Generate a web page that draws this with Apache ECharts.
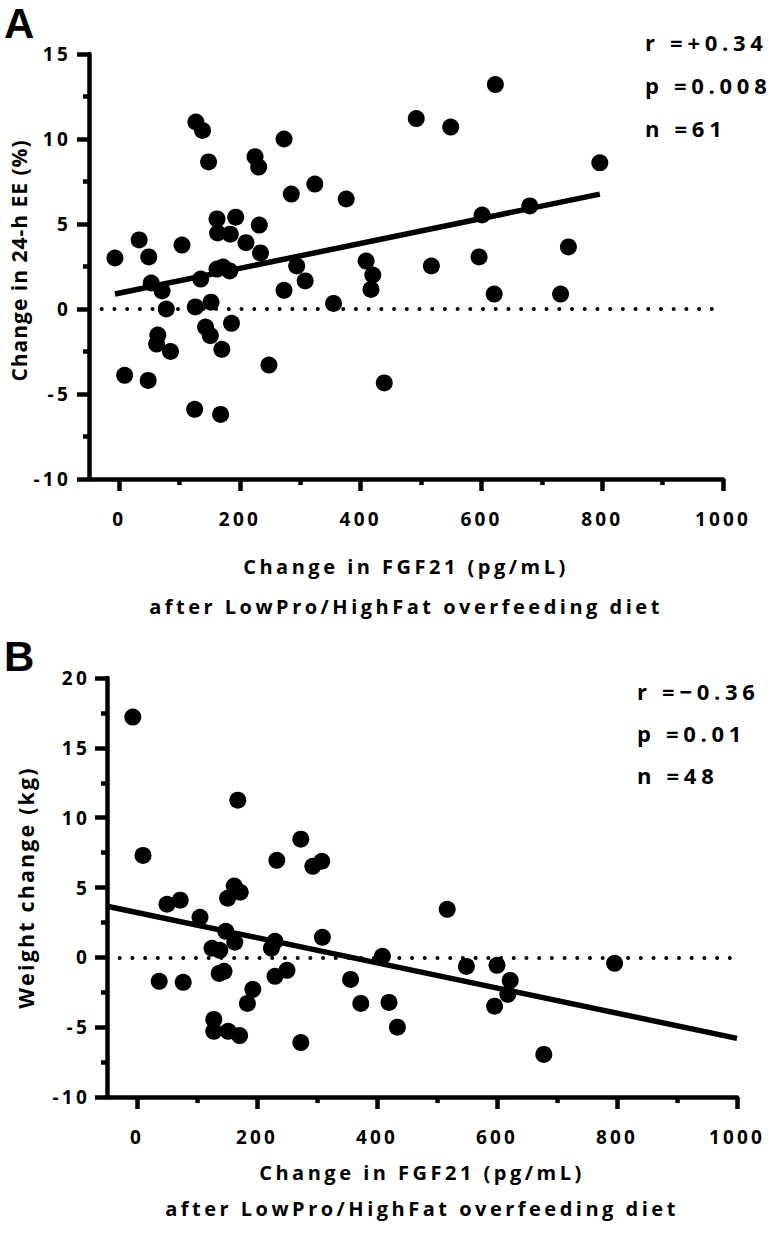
<!DOCTYPE html>
<html><head><meta charset="utf-8">
<script src="https://cdn.jsdelivr.net/npm/echarts@6/dist/echarts.min.js"></script>
<style>html,body{margin:0;padding:0;background:#fff}#chart{width:773px;height:1234px}#chart text{letter-spacing:3.5px}</style>
</head><body><div id="chart"></div>
<script>
// ---- data ----
const xTickValues = [0, 200, 400, 600, 800, 1000];
const xMinorTickValues = [100, 300, 500, 700, 900];
const xAxisTitle = 'Change in FGF21 (pg/mL)\nafter LowPro/HighFat overfeeding diet';
const yAxisTitleA = 'Change in 24-h EE (%)';
const yAxisTitleB = 'Weight change (kg)';

const panelA_x = [-7, 33, 49, 53, 71, 104, 127, 138, 148, 135, 162, 163, 184, 193, 210, 162, 172, 183, 225, 231,
  232, 234, 273, 285, 324, 376, 294, 308, 273, 409, 420, 417, 78, 9, 48, 64, 62, 85, 126, 152,
  143, 151, 186, 170, 125, 168, 248, 355, 439, 623, 492, 549, 796, 601, 680, 744, 517, 596, 621, 731];
const panelA_y = [3.0, 4.06, 3.06, 1.53, 1.06, 3.76, 11.0, 10.5, 8.65, 1.76, 5.3, 4.47, 4.4, 5.4, 3.9, 2.35, 2.47, 2.24, 8.96, 8.35,
  4.94, 3.3, 10.0, 6.76, 7.35, 6.47, 2.53, 1.65, 1.1, 2.82, 2.0, 1.15, 0.0, -3.9, -4.2, -1.53, -2.06, -2.5, 0.12, 0.4,
  -1.06, -1.57, -0.84, -2.37, -5.9, -6.2, -3.3, 0.33, -4.35, 13.2, 11.2, 10.7, 8.6, 5.53, 6.06, 3.65, 2.53, 3.06, 0.88, 0.88];
const panelA_fitX = [-7, 796];
const panelA_fitY = [0.88, 6.76];
const panelA_stats = ['r =+0.34', 'p =0.008', 'n =61'];

const panelB_x = [-7, 168, 10, 233, 273, 293, 308, 50, 72, 105, 162, 172, 151, 148, 163, 125, 138, 137, 145, 37,
  77, 193, 184, 128, 128, 152, 171, 230, 224, 230, 250, 273, 309, 356, 373, 409, 420, 434, 517, 549,
  600, 622, 618, 596, 678, 796];
const panelB_y = [17.2, 11.25, 7.3, 6.95, 8.46, 6.52, 6.88, 3.8, 4.09, 2.87, 5.1, 4.66, 4.23, 1.86, 1.08, 0.65, 0.5, -1.15, -1.0, -1.72,
  -1.79, -2.29, -3.3, -4.45, -5.3, -5.3, -5.6, 1.15, 0.65, -1.36, -0.93, -6.1, 1.43, -1.58, -3.3, 0.07, -3.23, -5.0, 3.44, -0.65,
  -0.57, -1.65, -2.65, -3.5, -6.95, -0.43];
const panelB_fitX = [-50, 1000];
const panelB_fitY = [3.66, -5.8];
const panelB_stats = ['r =\u22120.36', 'p =0.01', 'n =48'];

// ---- chart ----
const FONT = '"Open Sans", "DejaVu Sans", sans-serif';
const BLACK = '#000';
const AXW = 4.5;
const zip = (xs, ys) => xs.map((x, i) => [x, ys[i]]);
const plain = v => String(v);

function xMajor(grid, gap, lh) {
  return {
    gridIndex: grid, type: 'value', position: 'bottom', min: -50, max: 1000,
    axisLine: { show: true, onZero: false, lineStyle: { color: BLACK, width: AXW } },
    axisTick: { show: true, customValues: xTickValues, length: 12, lineStyle: { color: BLACK, width: AXW } },
    axisLabel: { customValues: xTickValues, formatter: plain, margin: 30, color: BLACK, fontFamily: FONT, fontWeight: 'bold', fontSize: 19 },
    splitLine: { show: false },
    name: xAxisTitle, nameLocation: 'middle', nameGap: gap,
    nameTextStyle: { color: BLACK, fontFamily: FONT, fontWeight: 'bold', fontSize: 20, lineHeight: lh }
  };
}
function xMinor(grid) {
  return {
    gridIndex: grid, type: 'value', position: 'bottom', min: -50, max: 1000,
    axisLine: { show: false, onZero: false },
    axisTick: { show: true, customValues: xMinorTickValues, length: 6, lineStyle: { color: BLACK, width: AXW } },
    axisLabel: { show: false }, splitLine: { show: false }
  };
}
function yAx(grid, min, max, name, gap, margin, nameSize, namePad) {
  return {
    gridIndex: grid, type: 'value', min: min, max: max, interval: 5,
    axisLine: { show: true, onZero: false, lineStyle: { color: BLACK, width: AXW } },
    axisTick: { show: true, length: 12, lineStyle: { color: BLACK, width: AXW } },
    minorTick: { show: true, splitNumber: 2, length: 6, lineStyle: { color: BLACK, width: AXW } },
    axisLabel: { margin: margin, formatter: plain, color: BLACK, fontFamily: FONT, fontWeight: 'bold', fontSize: 19 },
    splitLine: { show: false }, minorSplitLine: { show: false },
    name: name, nameLocation: 'middle', nameGap: gap,
    nameTextStyle: { color: BLACK, fontFamily: FONT, fontWeight: 'bold', fontSize: nameSize, padding: namePad }
  };
}
function zeroLine() {
  return {
    silent: true, symbol: ['none', 'none'], label: { show: false },
    lineStyle: { color: BLACK, width: 4, type: [0.01, 12.7], cap: 'round', opacity: 1 },
    emphasis: { disabled: true },
    data: [{ yAxis: 0 }]
  };
}
function statTexts(lines, x, ys) {
  return lines.map((t, i) => ({
    type: 'text', x: x, y: ys[i], silent: true,
    style: { text: t, fill: BLACK, font: 'bold 22px ' + FONT, align: 'left', verticalAlign: 'middle' }
  }));
}

const chart = echarts.init(document.getElementById('chart'), null, { renderer: 'svg', width: 773, height: 1234 });
chart.setOption({
  animation: false,
  backgroundColor: '#fff',
  grid: [
    { left: 84, top: 54, width: 639, height: 425 },
    { left: 107, top: 678, width: 630, height: 419 }
  ],
  xAxis: [xMajor(0, 67, 40), xMinor(0), xMajor(1, 57, 36), xMinor(1)],
  yAxis: [yAx(0, -10, 15, yAxisTitleA, 60, 18, 21, [0, 0, 0, 12]), yAx(1, -10, 20, yAxisTitleB, 71, 17, 21.4, 0)],
  series: [
    { type: 'scatter', xAxisIndex: 0, yAxisIndex: 0, data: zip(panelA_x, panelA_y), symbolSize: 17,
      itemStyle: { color: BLACK, opacity: 1 }, markLine: zeroLine(), z: 3 },
    { type: 'line', xAxisIndex: 0, yAxisIndex: 0, data: zip(panelA_fitX, panelA_fitY), symbol: 'none',
      lineStyle: { color: BLACK, width: 5.5 }, z: 2 },
    { type: 'scatter', xAxisIndex: 2, yAxisIndex: 1, data: zip(panelB_x, panelB_y), symbolSize: 17,
      itemStyle: { color: BLACK, opacity: 1 }, markLine: zeroLine(), z: 3 },
    { type: 'line', xAxisIndex: 2, yAxisIndex: 1, data: zip(panelB_fitX, panelB_fitY), symbol: 'none',
      lineStyle: { color: BLACK, width: 5.5 }, z: 2 }
  ],
  graphic: [
    { type: 'text', x: 4, y: 23, silent: true, style: { text: 'A', fill: BLACK, font: 'bold 42px "Liberation Sans", Arial, sans-serif', align: 'left', verticalAlign: 'middle' } },
    { type: 'text', x: 4, y: 656, silent: true, style: { text: 'B', fill: BLACK, font: 'bold 42px "Liberation Sans", Arial, sans-serif', align: 'left', verticalAlign: 'middle' } }
  ].concat(statTexts(panelA_stats, 645, [42, 85, 128]), statTexts(panelB_stats, 637, [691, 733, 775]))
});

// letter spacing per text size (the reference uses widely spaced type)
const spacingBySize = { '19.0': 3.2, '20.0': 3.5, '21.0': 1.0, '21.4': 2.2, '22.0': 4.7, '42.0': 0 };
function applySpacing() {
  document.querySelectorAll('#chart text').forEach(t => {
    const fs = parseFloat(getComputedStyle(t).fontSize).toFixed(1);
    if (spacingBySize[fs] !== undefined) t.style.letterSpacing = spacingBySize[fs] + 'px';
  });
}
chart.on('rendered', applySpacing);
chart.on('finished', applySpacing);
applySpacing();
setTimeout(applySpacing, 30);
setTimeout(applySpacing, 200);
</script></body></html>
